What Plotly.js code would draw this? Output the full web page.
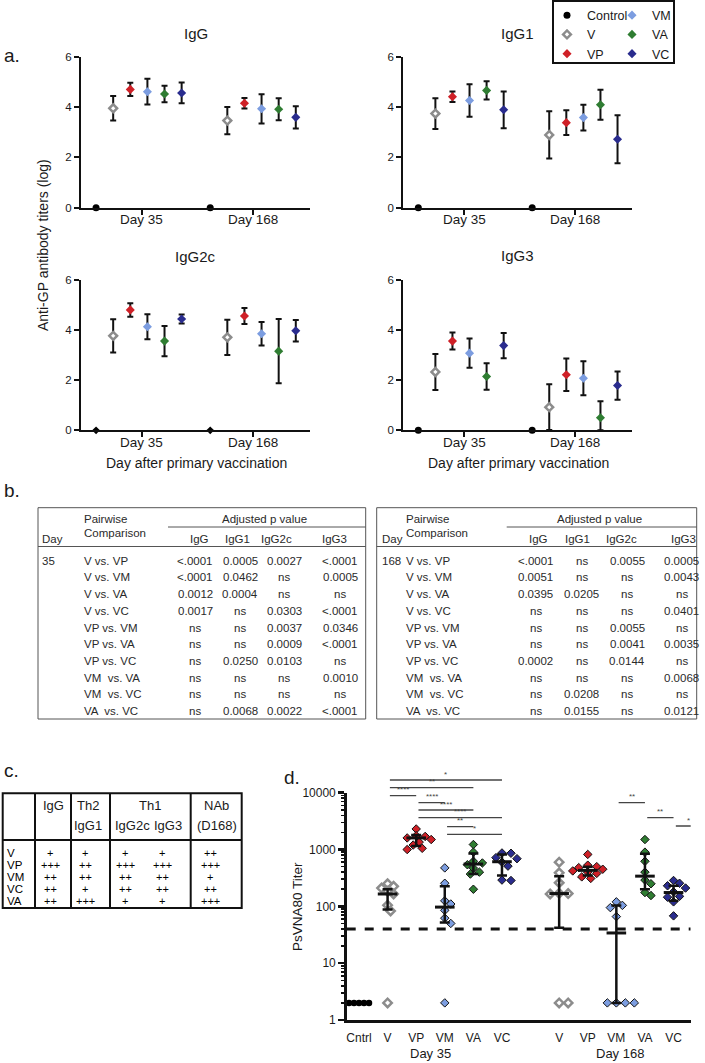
<!DOCTYPE html>
<html>
<head>
<meta charset="utf-8">
<script src="https://cdn.plot.ly/plotly-3.0.1.min.js"></script>
<style>html,body{margin:0;padding:0;background:#fff;}#chart{width:705px;height:1063px;}</style>
</head>
<body>
<div id="chart"></div>
<script>
// ---------------- DATA ----------------
const seriesNames = ["Control", "V", "VP", "VM", "VA", "VC"];
const days = ["Day 35", "Day 168"];

// Panel a: mean log titers and SD, per series (Control, V, VP, VM, VA, VC)
const IgG_mean35   = [0, 3.95, 4.70, 4.61, 4.52, 4.56];
const IgG_sd35     = [0, 0.49, 0.26, 0.51, 0.33, 0.41];
const IgG_mean168  = [0, 3.46, 4.15, 3.93, 3.91, 3.59];
const IgG_sd168    = [0, 0.54, 0.21, 0.58, 0.44, 0.44];

const IgG1_mean35  = [0, 3.74, 4.41, 4.26, 4.66, 3.89];
const IgG1_sd35    = [0, 0.61, 0.21, 0.65, 0.36, 0.73];
const IgG1_mean168 = [0, 2.89, 3.38, 3.58, 4.09, 2.72];
const IgG1_sd168   = [0, 0.94, 0.49, 0.51, 0.60, 0.95];

const IgG2c_mean35  = [0, 3.76, 4.79, 4.12, 3.55, 4.43];
const IgG2c_sd35    = [0, 0.66, 0.27, 0.50, 0.60, 0.18];
const IgG2c_mean168 = [0, 3.70, 4.55, 3.84, 3.15, 3.96];
const IgG2c_sd168   = [0, 0.70, 0.32, 0.47, 1.28, 0.43];

const IgG3_mean35  = [0, 2.32, 3.55, 3.07, 2.14, 3.37];
const IgG3_sd35    = [0, 0.72, 0.34, 0.58, 0.53, 0.50];
const IgG3_mean168 = [0, 0.92, 2.21, 2.07, 0.50, 1.78];
const IgG3_sd168   = [0, 0.91, 0.65, 0.68, 0.66, 0.56];

// Panel b: adjusted p values
const comparisons = ["V vs. VP", "V vs. VM", "V vs. VA", "V vs. VC", "VP vs. VM", "VP vs. VA", "VP vs. VC", "VM  vs. VA", "VM  vs. VC", "VA  vs. VC"];
const pHeaders = ["IgG", "IgG1", "IgG2c", "IgG3"];
const p35_IgG   = ["<.0001", "<.0001", "0.0012", "0.0017", "ns", "ns", "ns", "ns", "ns", "ns"];
const p35_IgG1  = ["0.0005", "0.0462", "0.0004", "ns", "ns", "ns", "0.0250", "ns", "ns", "0.0068"];
const p35_IgG2c = ["0.0027", "ns", "ns", "0.0303", "0.0037", "0.0009", "0.0103", "ns", "ns", "0.0022"];
const p35_IgG3  = ["<.0001", "0.0005", "ns", "<.0001", "0.0346", "<.0001", "ns", "0.0010", "ns", "<.0001"];
const p168_IgG   = ["<.0001", "0.0051", "0.0395", "ns", "ns", "ns", "0.0002", "ns", "ns", "ns"];
const p168_IgG1  = ["ns", "ns", "0.0205", "ns", "ns", "ns", "ns", "ns", "0.0208", "0.0155"];
const p168_IgG2c = ["0.0055", "ns", "ns", "ns", "0.0055", "0.0041", "0.0144", "ns", "ns", "ns"];
const p168_IgG3  = ["0.0005", "0.0043", "ns", "0.0401", "ns", "0.0035", "ns", "0.0068", "ns", "0.0121"];

// Panel c: summary
const cRows = ["V", "VP", "VM", "VC", "VA"];
const c_IgG   = ["+", "+++", "++", "++", "++"];
const c_IgG1  = ["+", "++", "++", "+", "+++"];
const c_IgG2c = ["+", "+++", "++", "++", "+"];
const c_IgG3  = ["+", "+++", "++", "++", "+"];
const c_NAb   = ["++", "+++", "+", "++", "+++"];

// Panel d: PsVNA80 titers (individual animals)
const dCats = ["Cntrl", "V", "VP", "VM", "VA", "VC", "V", "VP", "VM", "VA", "VC"];
const dTickVals = [1, 10, 100, 1000, 10000];
const dTickText = ["1", "10", "100", "1000", "10000"];
const d35_Cntrl = [2, 2, 2, 2, 2];
const d35_V  = [250, 225, 210, 185, 165, 105, 83, 2];
const d35_VP = [2300, 1750, 1700, 1600, 1500, 1350, 1200, 1050, 1000];
const d35_VM = [475, 255, 125, 110, 85, 62, 50, 2];
const d35_VA = [1225, 900, 620, 580, 540, 470, 400, 370, 200];
const d35_VC = [870, 860, 720, 690, 600, 510, 290, 285];
const d168_V  = [600, 390, 260, 170, 168, 165, 2, 2];
const d168_VP = [820, 530, 500, 480, 450, 420, 400, 380, 330, 310];
const d168_VM = [120, 104, 95, 66, 2, 2, 2, 2];
const d168_VA = [1500, 900, 620, 400, 290, 250, 175, 155];
const d168_VC = [285, 255, 230, 210, 180, 150, 145, 120, 68];
// medians and interquartile ranges (V, VP, VM, VA, VC)
const d35_median  = [165, 1600, 97, 555, 610];
const d35_q1      = [88, 1150, 52, 370, 350];
const d35_q3      = [200, 1800, 225, 850, 820];
const d168_median = [168, 430, 34, 340, 175];
const d168_q1     = [42, 350, 2, 200, 125];
const d168_q3     = [340, 500, 104, 840, 230];
const lodTiter = 40;
// significance comparisons (category index from, to, label)
const sigFrom  = [1, 1, 1, 2, 2, 2, 3, 3, 8, 9, 10];
const sigTo    = [5, 4, 2, 3, 4, 5, 4, 5, 9, 10, 11];
const sigLabel = ["*", "**", "****", "****", "****", "****", "**", "*", "**", "**", "*"];

// ---------------- STYLE / LAYOUT ----------------
const W = 705, H = 1063;
const X = p => p / W;
const Y = p => 1 - p / H;
const FONT = "Liberation Sans, Arial, Helvetica, sans-serif";
const INK = "#1a1a1a";
const colors = ["#000000", "#8c8c8c", "#cf2027", "#7c9de0", "#2f7d32", "#2a2c8e"];

const traces = [];
const shapes = [];
const annotations = [];

function ann(text, px, py, o) {
  o = o || {};
  annotations.push(Object.assign({
    text: text, x: X(px), y: Y(py), xref: "paper", yref: "paper",
    xanchor: "center", yanchor: "middle", showarrow: false
  }, o, { font: Object.assign({ size: 12, color: INK, family: FONT }, o.font || {}) }));
}
function hline(x0, x1, y, w, c) {
  shapes.push({ type: "line", xref: "paper", yref: "paper", x0: X(x0), x1: X(x1), y0: Y(y), y1: Y(y), line: { color: c, width: w } });
}
function vline(x, y0, y1, w, c) {
  shapes.push({ type: "line", xref: "paper", yref: "paper", x0: X(x), x1: X(x), y0: Y(y0), y1: Y(y1), line: { color: c, width: w } });
}
function rect(x0, y0, x1, y1, w, c) {
  shapes.push({ type: "rect", xref: "paper", yref: "paper", x0: X(x0), x1: X(x1), y0: Y(y1), y1: Y(y0), line: { color: c, width: w }, fillcolor: "rgba(0,0,0,0)" });
}

// ---------------- PANEL a ----------------
const dayGroupGap = 6.67;
const dayTickPos = [2.68, 9.15];
const aPanels = [
  { title: "IgG",   m35: IgG_mean35,   s35: IgG_sd35,   m168: IgG_mean168,   s168: IgG_sd168,   xa: "x",  ya: "y",  xd: [81, 310],      yd: [56.7, 207.7],  ty: 33 },
  { title: "IgG1",  m35: IgG1_mean35,  s35: IgG1_sd35,  m168: IgG1_mean168,  s168: IgG1_sd168,  xa: "x2", ya: "y2", xd: [403.3, 631.7], yd: [56.7, 207.7],  ty: 33 },
  { title: "IgG2c", m35: IgG2c_mean35, s35: IgG2c_sd35, m168: IgG2c_mean168, s168: IgG2c_sd168, xa: "x3", ya: "y3", xd: [81, 310],      yd: [279.5, 430.3], ty: 257 },
  { title: "IgG3",  m35: IgG3_mean35,  s35: IgG3_sd35,  m168: IgG3_mean168,  s168: IgG3_sd168,  xa: "x4", ya: "y4", xd: [403.3, 631.7], yd: [279.5, 430.3], ty: 256 }
];

function markerA(s, k) {
  if (s === 0) return k === 2 ? { symbol: "diamond", size: 6, color: "#000" } : { symbol: "circle", size: 7, color: "#000" };
  if (s === 1) return { symbol: "diamond", size: 6, color: "#ffffff", line: { color: colors[1], width: 2.5 } };
  return { symbol: "diamond", size: 7, color: colors[s], line: { width: 0 } };
}

const legFont = { size: 12.5, family: FONT, color: INK };
const layout = {
  width: W, height: H, margin: { l: 0, r: 0, t: 0, b: 0 },
  paper_bgcolor: "#ffffff", plot_bgcolor: "rgba(0,0,0,0)",
  font: { family: FONT, color: INK },
  showlegend: true,
  legend: { x: X(547), y: Y(0.5), xanchor: "left", yanchor: "top", bgcolor: "rgba(0,0,0,0)", borderwidth: 0, tracegroupgap: 0, font: legFont },
  legend2: { x: X(612), y: Y(0.5), xanchor: "left", yanchor: "top", bgcolor: "rgba(0,0,0,0)", borderwidth: 0, tracegroupgap: 0, font: legFont }
};

aPanels.forEach((p, k) => {
  const sfx = k === 0 ? "" : String(k + 1);
  layout["xaxis" + sfx] = {
    domain: [X(p.xd[0]), X(p.xd[1])], anchor: p.ya, range: [-0.88, 12.5],
    showline: true, linewidth: 2, linecolor: "#111", ticks: "outside", ticklen: 5, tickwidth: 2, tickcolor: "#111",
    tickmode: "array", tickvals: dayTickPos, ticktext: ["", ""], showticklabels: false,
    showgrid: false, zeroline: false, fixedrange: true
  };
  layout["yaxis" + sfx] = {
    domain: [Y(p.yd[1]), Y(p.yd[0])], anchor: p.xa, range: [0, 6],
    showline: true, linewidth: 2, linecolor: "#111", ticks: "outside", ticklen: 5, tickwidth: 2, tickcolor: "#111",
    tickmode: "array", tickvals: [0, 2, 4, 6], tickfont: { size: 11.5, family: FONT, color: INK },
    showgrid: false, zeroline: false, fixedrange: true
  };
  ann(p.title, (p.xd[0] + p.xd[1]) / 2, p.ty, { font: { size: 15 } });
  days.forEach((d, j) => {
    annotations.push({ text: d, xref: p.xa, yref: "paper", x: dayTickPos[j], y: Y(p.yd[1] + 12), xanchor: "center", yanchor: "middle", showarrow: false, font: { size: 13.5, family: FONT, color: INK } });
  });
  seriesNames.forEach((nm, s) => {
    const y = [p.m35[s], p.m168[s]];
    const sd = [p.s35[s], p.s168[s]];
    const x = [0, 1].map(d => d * dayGroupGap + s);
    traces.push({
      type: "scatter", mode: "markers", x: x, y: y, xaxis: p.xa, yaxis: p.ya,
      name: nm, legendgroup: nm, showlegend: k === 0, legend: s < 3 ? "legend" : "legend2",
      cliponaxis: false, hoverinfo: "skip",
      marker: markerA(s, k),
      error_y: s === 0 ? { visible: false } : {
        type: "data", symmetric: false, array: sd, arrayminus: sd.map((e, i) => Math.min(e, y[i])),
        color: "#111", thickness: 2, width: 3
      }
    });
  });
});

// legend box
rect(553, 1, 674, 63, 2, "#111");
ann("a.", 2, 55, { xanchor: "left", font: { size: 19 } });
ann("Anti-GP antibody titers (log)", 43, 245, { textangle: -90, font: { size: 14 } });
ann("Day after primary vaccination", 196, 463, { font: { size: 14 } });
ann("Day after primary vaccination", 518, 463, { font: { size: 14 } });

// ---------------- PANEL b ----------------
ann("b.", 2, 490, { xanchor: "left", font: { size: 19 } });
const bTables = [
  { day: "35", cols: [p35_IgG, p35_IgG1, p35_IgG2c, p35_IgG3], left: 38, right: 365.7, dayX: 39.5, compX: 81.7, colX: [195, 240, 284, 340], hdrX: [199, 237, 276, 334], adjL: 168 },
  { day: "168", cols: [p168_IgG, p168_IgG1, p168_IgG2c, p168_IgG3], left: 376.7, right: 696.7, dayX: 379.5, compX: 404.3, colX: [535.7, 581.7, 627.3, 681.7], hdrX: [538.3, 577, 621.7, 683.3], adjL: 506.7 }
];
const bTop = 507.7, bBottom = 719, rowY0 = 560.7, rowDY = 16.7;
const bInk = "#2a2a2a", bFont = 11.5;
bTables.forEach(t => {
  rect(t.left, bTop, t.right, bBottom, 1, "#555");
  hline(t.adjL, t.right, 527, 1, "#555");
  hline(t.left, t.right, 546.5, 1, "#555");
  ann("Pairwise", t.compX, 519, { xanchor: "left", font: { size: bFont, color: bInk } });
  ann("Comparison", t.compX, 533, { xanchor: "left", font: { size: bFont, color: bInk } });
  ann("Day", t.dayX, 539, { xanchor: "left", font: { size: bFont, color: bInk } });
  ann("Adjusted p value", (t.adjL + t.right) / 2 - 2, 519, { font: { size: bFont, color: bInk } });
  pHeaders.forEach((h, j) => ann(h, t.hdrX[j], 539, { font: { size: bFont, color: bInk } }));
  ann(t.day, t.dayX, rowY0, { xanchor: "left", font: { size: bFont, color: bInk } });
  comparisons.forEach((c, i) => {
    const yy = rowY0 + i * rowDY;
    ann(c, t.compX, yy, { xanchor: "left", font: { size: bFont, color: bInk } });
    t.cols.forEach((col, j) => ann(col[i], t.colX[j], yy, { font: { size: bFont, color: bInk } }));
  });
});

// ---------------- PANEL c ----------------
ann("c.", 2, 770, { xanchor: "left", font: { size: 19 } });
const cRowY0 = 852.5, cRowDY = 12;
const cL = 2.7, cR = 241.7, cT = 793.3, cB = cRowY0 + 4 * cRowDY + 7.5, cHdr = 840;
const cSep = [35, 71, 110, 190.7];
rect(cL, cT, cR, cB, 2, "#111");
hline(cL, cR, cHdr, 2, "#111");
cSep.forEach(x => vline(x, cT, cB, 2, "#111"));
const cHFont = 13;
ann("IgG", 53, 805, { font: { size: cHFont } });
ann("Th2", 88, 805, { font: { size: cHFont } });
ann("IgG1", 88, 825, { font: { size: cHFont } });
ann("Th1", 150, 805, { font: { size: cHFont } });
ann("IgG2c", 132.7, 825, { font: { size: cHFont } });
ann("IgG3", 168.3, 825, { font: { size: cHFont } });
ann("NAb", 216.7, 805, { font: { size: cHFont } });
ann("(D168)", 216.7, 825, { font: { size: cHFont } });
const cColX = [50, 85, 125, 162, 210];
const cCols = [c_IgG, c_IgG1, c_IgG2c, c_IgG3, c_NAb];
cRows.forEach((r, i) => {
  const yy = cRowY0 + i * cRowDY;
  ann(r, 4.5, yy, { xanchor: "left", font: { size: 11.5, color: "#000000" } });
  cCols.forEach((col, j) => ann(col[i], cColX[j], yy, { font: { size: 11, color: "#000000" } }));
});

// ---------------- PANEL d ----------------
ann("d.", 282, 777, { xanchor: "left", font: { size: 19 } });
const dPxPerUnit = 28.6, dPxPerDecade = 56.8;
const dRange = [-0.43, 11.6];
const minorVals = [];
for (let e = 0; e < 4; e++) for (let m = 2; m <= 9; m++) minorVals.push(m * Math.pow(10, e));
layout.xaxis5 = {
  domain: [X(346.7), X(690.7)], anchor: "y5", range: dRange,
  showline: true, linewidth: 2.5, linecolor: "#111", ticks: "", tickmode: "array",
  tickvals: dCats.map((c, i) => (i < 6 ? i : i + 1)), ticktext: dCats,
  tickfont: { size: 12, family: FONT, color: INK }, ticklabelstandoff: 5,
  showgrid: false, zeroline: false, fixedrange: true
};
layout.yaxis5 = {
  domain: [Y(1020), Y(792.7)], anchor: "x5", type: "log", range: [0, 4],
  showline: true, linewidth: 2.5, linecolor: "#111", ticks: "outside", ticklen: 6, tickwidth: 2.5, tickcolor: "#111",
  tickmode: "array", tickvals: dTickVals, ticktext: dTickText,
  minor: { tickmode: "array", tickvals: minorVals, ticks: "outside", ticklen: 3.5, tickwidth: 1.5, tickcolor: "#111", showgrid: false },
  tickfont: { size: 12, family: FONT, color: INK },
  showgrid: false, zeroline: false, fixedrange: true
};

function swarm(vals, step, minDist) {
  const order = vals.map((v, i) => i).sort((a, b) => vals[b] - vals[a]);
  const placed = [];
  const off = new Array(vals.length);
  order.forEach(i => {
    const yp = Math.log10(vals[i]) * dPxPerDecade;
    for (let k = 0; k < 200; k++) {
      const cands = k === 0 ? [0] : [k * step, -k * step];
      let found = null;
      for (const c of cands) {
        if (placed.every(p => Math.hypot(p.x - c, p.y - yp) >= minDist)) { found = c; break; }
      }
      if (found !== null) { placed.push({ x: found, y: yp }); off[i] = found / dPxPerUnit; break; }
    }
  });
  return off;
}

const dGroups = [
  { s: 0, vals: d35_Cntrl }, { s: 1, vals: d35_V }, { s: 2, vals: d35_VP }, { s: 3, vals: d35_VM }, { s: 4, vals: d35_VA }, { s: 5, vals: d35_VC },
  { s: 1, vals: d168_V }, { s: 2, vals: d168_VP }, { s: 3, vals: d168_VM }, { s: 4, vals: d168_VA }, { s: 5, vals: d168_VC }
];
const dMed = [null].concat(d35_median, d168_median);
const dQ1 = [null].concat(d35_q1, d168_q1);
const dQ3 = [null].concat(d35_q3, d168_q3);

function markerD(s) {
  if (s === 0) return { symbol: "circle", size: 6.5, color: "#000" };
  if (s === 1) return { symbol: "diamond", size: 6.5, color: "#ffffff", line: { color: colors[1], width: 2.5 } };
  return { symbol: "diamond", size: 6.5, color: colors[s], line: { color: "#111", width: 1 } };
}

// threshold line
traces.push({
  type: "scatter", mode: "lines", x: dRange, y: [lodTiter, lodTiter], xaxis: "x5", yaxis: "y5",
  showlegend: false, hoverinfo: "skip", line: { color: "#111", width: 3, dash: "dash" }
});

dGroups.forEach((g, gi) => {
  const pos = gi < 6 ? gi : gi + 1;
  const off = g.s === 0 ? swarm(g.vals, 2.5, 4.5) : swarm(g.vals, 3, 6.5);
  traces.push({
    type: "scatter", mode: "markers", x: g.vals.map((v, i) => pos + off[i]), y: g.vals,
    xaxis: "x5", yaxis: "y5", showlegend: false, hoverinfo: "skip", cliponaxis: false,
    name: seriesNames[g.s], marker: markerD(g.s)
  });
});
dGroups.forEach((g, gi) => {
  if (dMed[gi] === null) return;
  const pos = gi < 6 ? gi : gi + 1;
  traces.push({
    type: "scatter", mode: "markers", x: [pos], y: [dMed[gi]], xaxis: "x5", yaxis: "y5",
    showlegend: false, hoverinfo: "skip", cliponaxis: false,
    marker: { symbol: "line-ew", size: 14, color: "#111", line: { color: "#111", width: 3 } },
    error_y: { type: "data", symmetric: false, array: [dQ3[gi] - dMed[gi]], arrayminus: [dMed[gi] - dQ1[gi]], color: "#111", thickness: 2.5, width: 5 }
  });
});

// significance bars
const sigYpx = [780, 787.7, 795.7, 802.7, 810, 817.7, 826.7, 834.3, 802.7, 817.7, 826];
const catPos = i => (i < 6 ? i : i + 1);
sigFrom.forEach((a, i) => {
  const x0 = catPos(a) + 0.08, x1 = catPos(sigTo[i]);
  shapes.push({ type: "line", xref: "x5", yref: "paper", x0: x0, x1: x1, y0: Y(sigYpx[i]), y1: Y(sigYpx[i]), line: { color: "#444", width: 1.3 } });
  annotations.push({ text: sigLabel[i], xref: "x5", yref: "paper", x: (x0 + x1) / 2, y: Y(sigYpx[i] - 0.5), xanchor: "center", yanchor: "bottom", showarrow: false, borderpad: 0, font: { size: 8, color: "#444", family: FONT } });
});

ann("PsVNA80 Titer", 297, 907, { textangle: -90, font: { size: 13.5 } });
ann("Day 35", 430.7, 1053, { font: { size: 13 } });
ann("Day 168", 620, 1053, { font: { size: 13 } });

layout.shapes = shapes;
layout.annotations = annotations;

Plotly.newPlot("chart", traces, layout, { displayModeBar: false, staticPlot: true });
</script>
</body>
</html>
